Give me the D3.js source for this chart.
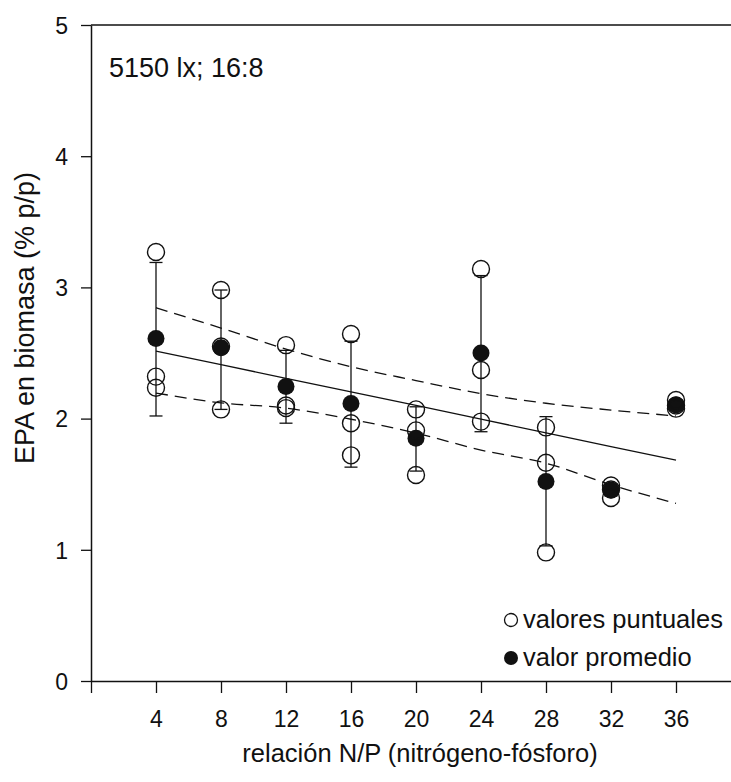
<!DOCTYPE html>
<html>
<head>
<meta charset="utf-8">
<script src="https://cdn.jsdelivr.net/npm/d3@7"></script>
<style>
  body { margin: 0; background: #fff; }
  svg { display: block; font-family: "Liberation Sans", Arial, sans-serif; }
</style>
</head>
<body>
<div id="chart"></div>
<script>
// N/P ratio groups
const ratios = [4, 8, 12, 16, 20, 24, 28, 32, 36];

// individual measurements (three per group)
const pointValues = [
  [3.27, 2.32, 2.235],
  [2.98, 2.55, 2.07],
  [2.56, 2.10, 2.08],
  [2.645, 1.965, 1.72],
  [2.07, 1.91, 1.57],
  [3.14, 2.37, 1.977],
  [1.933, 1.664, 0.98],
  [1.49, 1.46, 1.395],
  [2.142, 2.10, 2.076]
];

// group means and error bar ends
const meanValues = [2.61, 2.54, 2.245, 2.115, 1.85, 2.50, 1.52, 1.456, 2.104];
const errLow  = [2.02, 2.07, 1.965, 1.63, 1.60, 1.90, 1.03, 1.41, 2.07];
const errHigh = [3.19, 2.98, 2.52, 2.59, 2.09, 3.09, 2.015, 1.50, 2.14];

// regression line and confidence band read at each ratio
const fitLine   = [2.515, 2.411, 2.307, 2.203, 2.10, 1.996, 1.891, 1.787, 1.684];
const bandUpper = [2.845, 2.69, 2.53, 2.395, 2.29, 2.19, 2.117, 2.065, 2.02];
const bandLower = [2.195, 2.12, 2.08, 1.995, 1.89, 1.76, 1.66, 1.495, 1.354];

const xTicks = [0, 4, 8, 12, 16, 20, 24, 28, 32, 36];
const yTicks = [0, 1, 2, 3, 4, 5];

const W = 731, H = 782;

const svg = d3.select('#chart').append('svg')
  .attr('width', W)
  .attr('height', H);

const x = d3.scaleLinear().domain([0, 40]).range([91, 741]);
const y = d3.scaleLinear().domain([0, 5]).range([681, 25]);

const ink = '#111';

// x axis
const xAxis = svg.append('g')
  .attr('transform', `translate(0,${y(0)})`)
  .call(d3.axisBottom(x).tickValues(xTicks).tickSize(12).tickSizeOuter(0)
    .tickFormat(d => d === 0 ? '' : d));
xAxis.select('.domain').attr('stroke', ink).attr('stroke-width', 1.5);
xAxis.selectAll('.tick line').attr('stroke', ink).attr('stroke-width', 1.3);
xAxis.selectAll('.tick text')
  .attr('y', 0).attr('dy', null)
  .attr('transform', 'translate(0,46)')
  .style('font-size', '23px')
  .attr('fill', ink);

// y axis
const yAxis = svg.append('g')
  .attr('transform', `translate(${x(0)},0)`)
  .call(d3.axisLeft(y).tickValues(yTicks).tickSize(10).tickSizeOuter(0)
    .tickFormat(d3.format('d')));
yAxis.select('.domain').attr('stroke', ink).attr('stroke-width', 1.5);
yAxis.selectAll('.tick line').attr('stroke', ink).attr('stroke-width', 1.3);
yAxis.selectAll('.tick text')
  .attr('x', -23).attr('dy', '0.36em')
  .style('font-size', '23px')
  .attr('fill', ink);

// top frame line
svg.append('line')
  .attr('x1', x(0)).attr('x2', x(40))
  .attr('y1', y(5)).attr('y2', y(5))
  .attr('stroke', ink).attr('stroke-width', 1.5);

// axis titles
svg.append('text')
  .attr('x', 420).attr('y', 762)
  .attr('text-anchor', 'middle')
  .style('font-size', '25.5px')
  .attr('fill', ink)
  .text('relación N/P (nitrógeno-fósforo)');

svg.append('text')
  .attr('transform', `translate(34,${318}) rotate(-90)`)
  .attr('text-anchor', 'middle')
  .style('font-size', '27px')
  .attr('fill', ink)
  .text('EPA en biomasa (% p/p)');

// condition label
svg.append('text')
  .attr('x', 109).attr('y', 77)
  .style('font-size', '27px')
  .attr('fill', ink)
  .text('5150 lx; 16:8');

// regression line and confidence band
const lineGen = d3.line()
  .x((d, i) => x(ratios[i]))
  .y(d => y(d));

svg.append('path')
  .datum(fitLine)
  .attr('d', lineGen)
  .attr('fill', 'none')
  .attr('stroke', ink)
  .attr('stroke-width', 1.3);

[bandUpper, bandLower].forEach(band => {
  svg.append('path')
    .datum(band)
    .attr('d', d3.line().curve(d3.curveMonotoneX).x((d, i) => x(ratios[i])).y(d => y(d)))
    .attr('fill', 'none')
    .attr('stroke', ink)
    .attr('stroke-width', 1.3)
    .attr('stroke-dasharray', '12,7');
});

// error bars
const bars = svg.append('g').attr('stroke', ink).attr('stroke-width', 1.3);
ratios.forEach((r, i) => {
  bars.append('line')
    .attr('x1', x(r)).attr('x2', x(r))
    .attr('y1', y(errLow[i])).attr('y2', y(errHigh[i]));
  [errLow[i], errHigh[i]].forEach(v => {
    bars.append('line')
      .attr('x1', x(r) - 6.5).attr('x2', x(r) + 6.5)
      .attr('y1', y(v)).attr('y2', y(v));
  });
});

// mean values
svg.append('g')
  .selectAll('circle')
  .data(meanValues)
  .enter().append('circle')
    .attr('cx', (d, i) => x(ratios[i]))
    .attr('cy', d => y(d))
    .attr('r', 8.5)
    .attr('fill', ink);

// single measurements
const flat = [];
pointValues.forEach((vals, i) => vals.forEach(v => flat.push({ r: ratios[i], v })));
svg.append('g')
  .selectAll('circle')
  .data(flat)
  .enter().append('circle')
    .attr('cx', d => x(d.r))
    .attr('cy', d => y(d.v))
    .attr('r', 8.5)
    .attr('fill', 'none')
    .attr('stroke', ink)
    .attr('stroke-width', 1.4);

// legend
const legend = svg.append('g');
legend.append('circle')
  .attr('cx', 511).attr('cy', 620).attr('r', 6.5)
  .attr('fill', 'none').attr('stroke', ink).attr('stroke-width', 1.3);
legend.append('text')
  .attr('x', 523).attr('y', 628)
  .style('font-size', '25.5px').attr('fill', ink)
  .text('valores puntuales');
legend.append('circle')
  .attr('cx', 511).attr('cy', 658).attr('r', 7)
  .attr('fill', ink);
legend.append('text')
  .attr('x', 523).attr('y', 666)
  .style('font-size', '25.5px').attr('fill', ink)
  .text('valor promedio');
</script>
</body>
</html>
